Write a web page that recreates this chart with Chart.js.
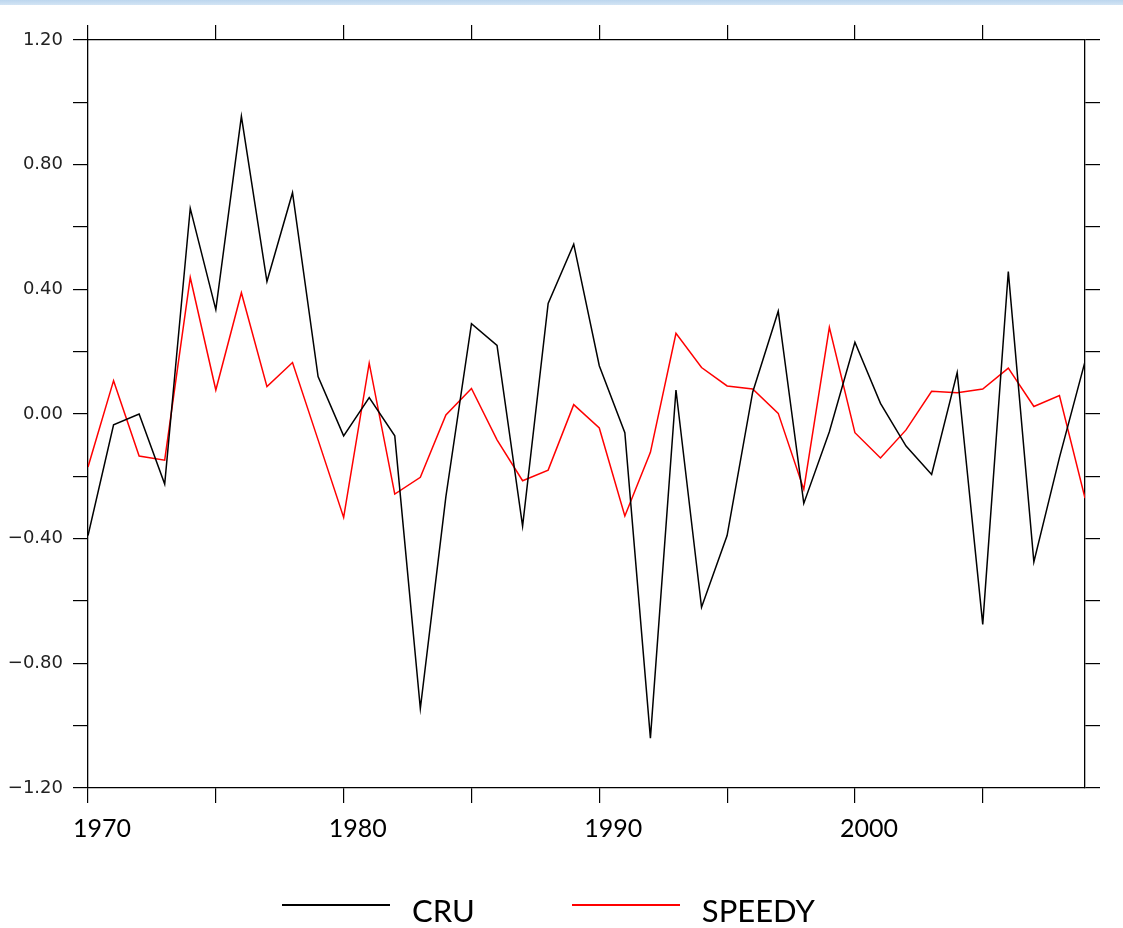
<!DOCTYPE html>
<html>
<head>
<meta charset="utf-8">
<script src="https://cdn.jsdelivr.net/npm/chart.js@4.4.1/dist/chart.umd.min.js"></script>
<style>
  body { margin: 0; background: #fff; }
  #wrap { position: relative; width: 1123px; height: 928px; }
  #topbar { position: absolute; left: 0; top: 0; width: 1123px; height: 5px; background: linear-gradient(#bcd6ee, #d3e4f4); }
  #legend { position: absolute; left: 282px; top: 886px; display: flex; align-items: center; font-family: Lato, sans-serif; font-size: 31px; color: #000; }
  .item { display: flex; align-items: center; margin-right: 97px; }
  .item span { position: relative; top: 5px; }
  .swatch { width: 108px; height: 2px; margin-right: 22px; }
</style>
</head>
<body>
<div id="wrap">
  <canvas id="myChart" width="1123" height="928"></canvas>
  <div id="topbar"></div>
  <div id="legend"></div>
</div>
<script>
var years = [];
for (var yr = 1970; yr <= 2009; yr++) years.push(yr);

var seriesNames = ['CRU', 'SPEEDY'];
var seriesColors = ['#000000', '#ff0000'];

var cru = [-0.39, -0.035, 0.0, -0.225, 0.66, 0.335, 0.955, 0.425, 0.71, 0.12,
    -0.07, 0.053, -0.07, -0.945, -0.265, 0.29, 0.22, -0.36, 0.355, 0.545,
    0.155, -0.06, -1.04, 0.077, -0.62, -0.39, 0.07, 0.33, -0.287, -0.057,
    0.23, 0.034, -0.103, -0.194, 0.133, -0.675, 0.457, -0.475, -0.14, 0.168];

var speedy = [-0.17, 0.107, -0.135, -0.148, 0.438, 0.077, 0.389, 0.088, 0.165, -0.083,
    -0.332, 0.163, -0.257, -0.203, -0.003, 0.082, -0.083, -0.214, -0.18, 0.03,
    -0.045, -0.327, -0.123, 0.259, 0.149, 0.09, 0.08, 0.002, -0.242, 0.278,
    -0.06, -0.141, -0.051, 0.073, 0.068, 0.08, 0.147, 0.024, 0.059, -0.27];

var xLabelYears = [1970, 1980, 1990, 2000];
var yLabelValues = [-1.2, -0.8, -0.4, 0, 0.4, 0.8, 1.2];

function toPoints(arr) {
    return years.map(function (y, i) { return { x: y, y: arr[i] }; });
}

function yLabel(v) {
    for (var i = 0; i < yLabelValues.length; i++) {
        if (Math.abs(yLabelValues[i] - v) < 1e-6) {
            return v.toFixed(2).replace('-', '\u2212');
        }
    }
    return '';
}

var gridOpts = { drawOnChartArea: false, color: '#000', lineWidth: 1.2, tickLength: 15 };
var borderOpts = { display: true, color: '#000', width: 1.3 };

var ctx = document.getElementById('myChart').getContext('2d');
var myChart = new Chart(ctx, {
    type: 'line',
    data: {
        datasets: [
            { label: seriesNames[0], data: toPoints(cru), borderColor: seriesColors[0], borderWidth: 1.5, pointRadius: 0, tension: 0 },
            { label: seriesNames[1], data: toPoints(speedy), borderColor: seriesColors[1], borderWidth: 1.5, pointRadius: 0, tension: 0 }
        ]
    },
    options: {
        responsive: false,
        animation: false,
        layout: { padding: 0 },
        plugins: { legend: { display: false }, tooltip: { enabled: false } },
        scales: {
            x: {
                type: 'linear', position: 'bottom', min: 1970, max: 2009,
                grid: gridOpts, border: borderOpts,
                ticks: {
                    stepSize: 5, includeBounds: false, maxRotation: 0, autoSkip: false,
                    padding: 11, labelOffset: 14, color: '#000',
                    font: { family: 'Lato', size: 25 },
                    callback: function (v) { return xLabelYears.indexOf(v) >= 0 ? String(v) : ''; }
                },
                afterFit: function (s) { s.height = 140; }
            },
            x2: {
                type: 'linear', position: 'top', min: 1970, max: 2009,
                grid: gridOpts, border: borderOpts,
                ticks: { stepSize: 5, includeBounds: false, display: false },
                afterFit: function (s) { s.height = 40; }
            },
            y: {
                type: 'linear', position: 'left', min: -1.2, max: 1.2,
                grid: gridOpts, border: borderOpts,
                ticks: {
                    stepSize: 0.2, padding: 10, color: '#222', autoSkip: false,
                    font: { family: 'DejaVu Sans', size: 18 },
                    callback: yLabel
                },
                afterFit: function (s) { s.width = 88; }
            },
            y2: {
                type: 'linear', position: 'right', min: -1.2, max: 1.2,
                grid: gridOpts, border: borderOpts,
                ticks: { stepSize: 0.2, display: false },
                afterFit: function (s) { s.width = 38; }
            }
        }
    }
});

var legend = document.getElementById('legend');
seriesNames.forEach(function (name, i) {
    var item = document.createElement('div');
    item.className = 'item';
    item.innerHTML = '<div class="swatch" style="background:' + seriesColors[i] + '"></div><span>' + name + '</span>';
    legend.appendChild(item);
});
</script>
</body>
</html>
